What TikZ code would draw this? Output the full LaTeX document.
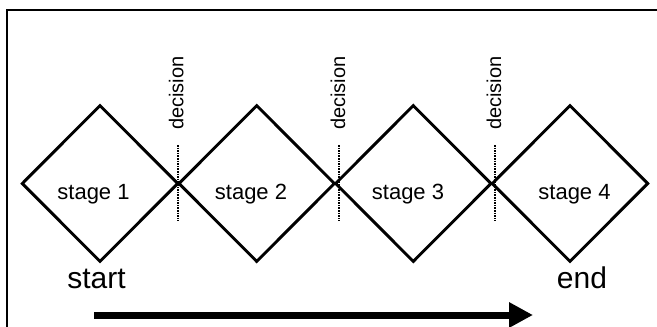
\documentclass[tikz,border=0pt]{standalone}
\usepackage{fontspec}
\setmainfont{Liberation Sans}
\usetikzlibrary{shapes.geometric,arrows.meta}
\tikzset{
  stagebox/.style={draw, shape=diamond, line width=2.9pt, inner sep=0pt,
    minimum width=156.6pt, minimum height=157pt},
  stagetext/.style={anchor=base, inner sep=0pt, font=\fontsize{22}{24}\selectfont},
  endtext/.style={anchor=base, inner sep=0pt, font=\fontsize{30}{32}\selectfont},
  dectext/.style={anchor=base west, rotate=90, inner sep=0pt, font=\fontsize{20}{22}\selectfont},
  decline/.style={line width=2.3pt, dash pattern=on 1.6pt off 1pt},
  frameline/.style={line width=2.5pt},
  progress/.style={line width=7pt, -{Triangle[length=24pt,width=24pt]}}
}
\begin{document}
\begin{tikzpicture}[x=1pt,y=-1pt]
\useasboundingbox (0,0) rectangle (657,327);
\clip (0,0) rectangle (657,327);
\fill[white] (0,0) rectangle (657,327);
\draw[frameline] (7,340) -- (7,10) -- (670,10);
% diamonds
\node[stagebox] (d1) at (100,183.5) {};
\node[stagebox] (d2) at (256.7,183.5) {};
\node[stagebox] (d3) at (413.3,183.5) {};
\node[stagebox] (d4) at (570,183.5) {};
% stage labels
\node[stagetext] (t1) at (93.5,199) {stage 1};
\node[stagetext] (t2) at (251,199) {stage 2};
\node[stagetext] (t3) at (408,199) {stage 3};
\node[stagetext] (t4) at (574.5,199) {stage 4};
% decision lines
\coordinate (a1) at (178.3,145); \coordinate (b1) at (178.3,221);
\coordinate (a2) at (339,145);   \coordinate (b2) at (339,221);
\coordinate (a3) at (495.3,145); \coordinate (b3) at (495.3,221);
\draw[decline] (a1) -- (b1);
\draw[decline] (a2) -- (b2);
\draw[decline] (a3) -- (b3);
\node[dectext] (k1) at (183.3,130) {decision};
\node[dectext] (k2) at (345,130) {decision};
\node[dectext] (k3) at (501,130) {decision};
% start / end
\node[endtext] (s) at (96.5,288) {start};
\node[endtext] (e) at (582,288) {end};
% progress arrow
\coordinate (p0) at (94,315);
\coordinate (p1) at (533,315);
\draw[progress] (p0) -- (p1);
\end{tikzpicture}
\end{document}
